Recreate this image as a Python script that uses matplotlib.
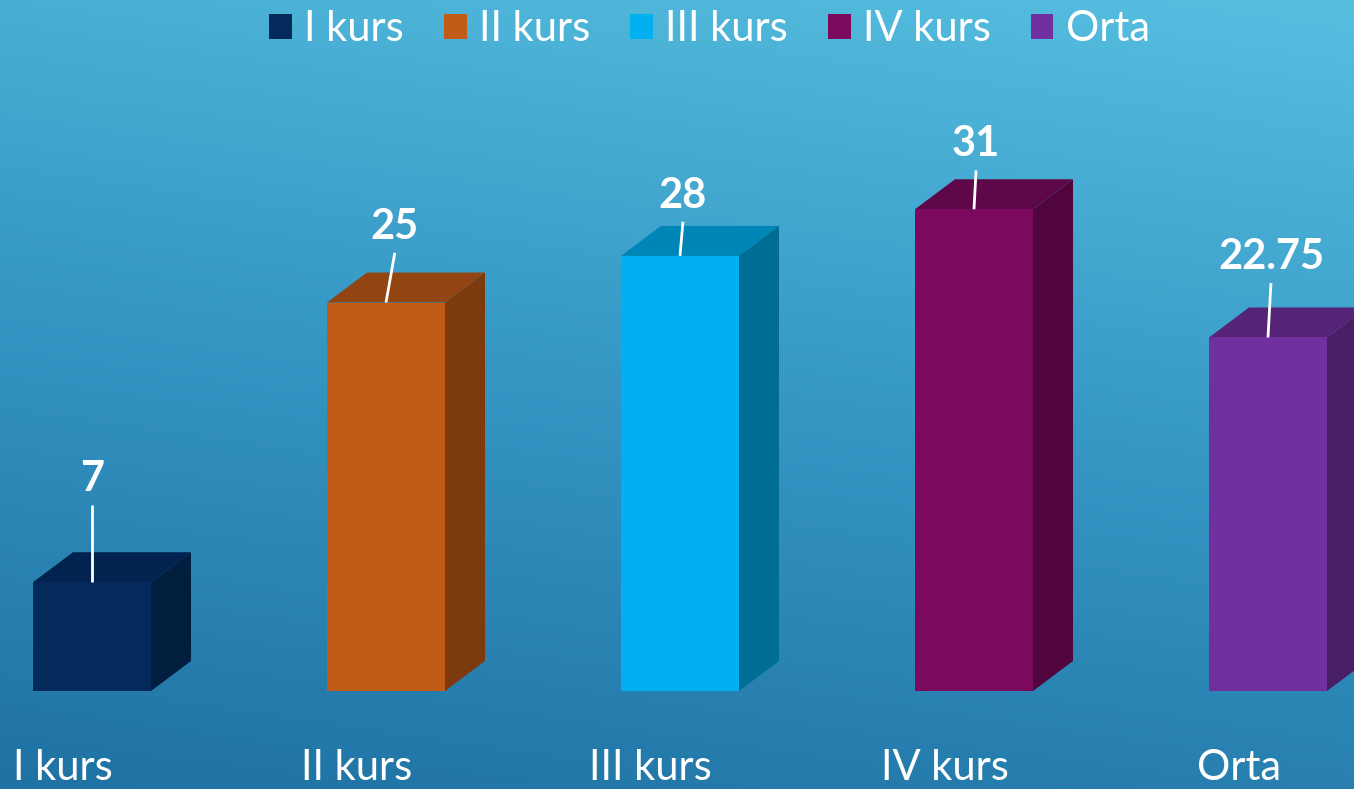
import numpy as np
import matplotlib
matplotlib.use("Agg")
import matplotlib.pyplot as plt
from matplotlib.patches import Polygon, Patch
from matplotlib.colors import LinearSegmentedColormap

categories = ["I kurs", "II kurs", "III kurs", "IV kurs", "Orta"]
values = [7, 25, 28, 31, 22.75]
value_labels = ["7", "25", "28", "31", "22.75"]

front_colors = ["#032a5b", "#c35b18", "#00b0f0", "#7b0a5f", "#7030a0"]
top_colors = ["#022350", "#924512", "#0086b6", "#5e0849", "#552479"]
side_colors = ["#011e3e", "#7c3a0e", "#006d96", "#50063d", "#481f67"]

# label layout (x shift in category units, line length in value units)
label_dx = [0.0, 0.03, 0.01, 0.007, 0.01]
line_len = [5.0, 3.2, 2.2, 2.5, 3.5]

W, H = 1354, 789
fig = plt.figure(figsize=(W / 100, H / 100), dpi=100)
ax = fig.add_axes([0, 0, 1, 1])

px_per_cat = 294.0
px_per_val = 15.54
x0_px = 92.0
base_px = 691.0
xmin = (0 - x0_px) / px_per_cat
xmax = (W - x0_px) / px_per_cat
ymin = -(H - base_px) / px_per_val
ymax = base_px / px_per_val
ax.set_xlim(xmin, xmax)
ax.set_ylim(ymin, ymax)
ax.axis("off")

# background gradient (darker bottom-left, lighter top-right)
ny, nx = 200, 300
yy, xx = np.mgrid[0:1:ny * 1j, 0:1:nx * 1j]
t = 0.8 * yy + 0.2 * xx
cmap = LinearSegmentedColormap.from_list("bg", ["#1f72a3", "#3596c4", "#56bfe0"])
ax.imshow(t, extent=[xmin, xmax, ymin, ymax], origin="lower", cmap=cmap,
          aspect="auto", zorder=0, vmin=0, vmax=1)

bw = 118 / px_per_cat
ddx = 40 / px_per_cat
ddy = 30 / px_per_val

xs = np.arange(len(categories))
ax.bar(xs, values, width=bw, color=front_colors, zorder=3)
for i, v in enumerate(values):
    l, r = i - bw / 2, i + bw / 2
    top = Polygon([(l, v), (r, v), (r + ddx, v + ddy), (l + ddx, v + ddy)],
                  closed=True, facecolor=top_colors[i], edgecolor="none", zorder=2)
    side = Polygon([(r, 0), (r + ddx, ddy), (r + ddx, v + ddy), (r, v)],
                   closed=True, facecolor=side_colors[i], edgecolor="none", zorder=2)
    ax.add_patch(top)
    ax.add_patch(side)
    ax.plot([i, i + label_dx[i]], [v, v + line_len[i]], color="white", lw=2, zorder=4,
            solid_capstyle="butt")
    ax.text(i + label_dx[i], v + line_len[i] + 0.45, value_labels[i], ha="center", va="bottom",
            color="white", fontsize=30, fontweight="bold", family="Lato", zorder=5)
    ax.text(i - 0.1, ymin + 0.12, categories[i], ha="center", va="bottom", color="white",
            fontsize=30, fontweight="normal", family="Lato", zorder=5)

handles = [Patch(facecolor=c, edgecolor="none") for c in front_colors]
leg = fig.legend(handles, categories, loc="upper center", bbox_to_anchor=(0.524, 1.035),
                 ncol=5, frameon=False, handlelength=0.55, handleheight=0.55,
                 handletextpad=0.3, columnspacing=0.95,
                 prop={"family": "Lato", "size": 30, "weight": "normal"})
for txt in leg.get_texts():
    txt.set_color("white")

fig.savefig("out.png", dpi=100)
